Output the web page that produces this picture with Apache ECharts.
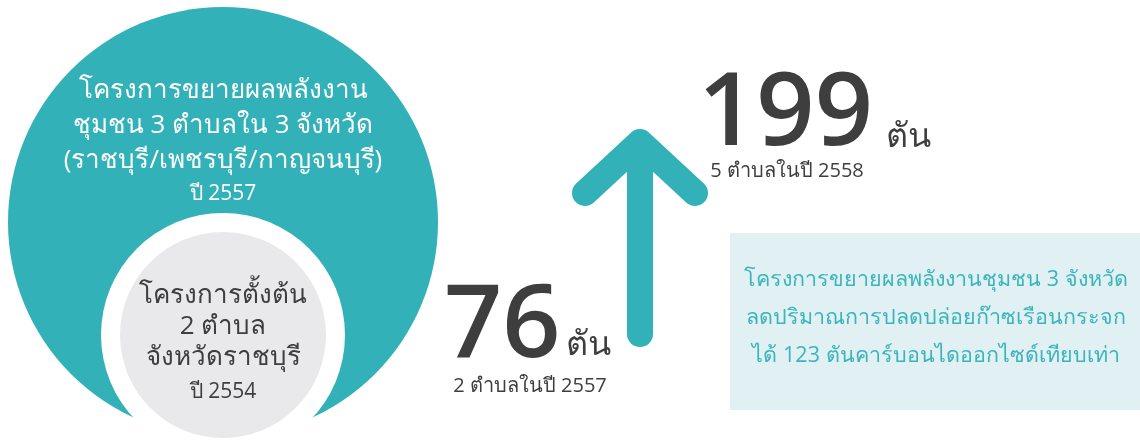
<!DOCTYPE html>
<html lang="th">
<head>
    <meta charset="UTF-8">
    <title>พลังงานชุมชน</title>
    <script src="https://cdn.jsdelivr.net/npm/echarts@6/dist/echarts.min.js"></script>
</head>
<body style="margin:0;background:#fff">
    <div id="chart" style="width:1140px;height:441px"></div>
    <script>
        // ข้อความในวงกลมใหญ่ (ปี 2557)
        const outerLines = ['โครงการขยายผลพลังงาน', 'ชุมชน 3 ตำบลใน 3 จังหวัด', '(ราชบุรี/เพชรบุรี/กาญจนบุรี)'];
        const outerYear = 'ปี 2557';
        // ข้อความในวงกลมเล็ก (ปี 2554)
        const innerLines = ['โครงการตั้งต้น', '2 ตำบล', 'จังหวัดราชบุรี'];
        const innerYear = 'ปี 2554';
        // ค่าก่อน / หลัง
        const values = [76, 199];
        const unit = 'ตัน';
        const valueNotes = ['2 ตำบลในปี 2557', '5 ตำบลในปี 2558'];
        // กล่องสรุป
        const summaryLines = [
            'โครงการขยายผลพลังงานชุมชน 3 จังหวัด',
            'ลดปริมาณการปลดปล่อยก๊าซเรือนกระจก',
            'ได้ 123 ตันคาร์บอนไดออกไซด์เทียบเท่า'
        ];

        const teal = '#32b1b8';
        const dark = '#3e3e3e';
        const font = '"Open Sans", "Noto Sans", sans-serif';

        const graphic = [];

        // วงกลม
        graphic.push({ type: 'circle', shape: { cx: 223, cy: 222, r: 215 }, style: { fill: teal } });
        graphic.push({ type: 'circle', shape: { cx: 223, cy: 335, r: 122 }, style: { fill: '#ffffff' } });
        graphic.push({ type: 'circle', shape: { cx: 223, cy: 335, r: 103 }, style: { fill: '#e9e9eb' } });

        outerLines.forEach((t, i) => {
            graphic.push({
                type: 'text', x: 223, y: 91 + i * 35,
                style: { text: t, fill: '#fff', fontSize: 26, fontFamily: font, align: 'center', verticalAlign: 'middle' }
            });
        });
        graphic.push({
            type: 'text', x: 223, y: 194,
            style: { text: outerYear, fill: '#fff', fontSize: 21, fontFamily: font, align: 'center', verticalAlign: 'middle' }
        });

        innerLines.forEach((t, i) => {
            graphic.push({
                type: 'text', x: 223, y: 296 + i * 31,
                style: { text: t, fill: dark, fontSize: 26, fontFamily: font, align: 'center', verticalAlign: 'middle' }
            });
        });
        graphic.push({
            type: 'text', x: 223, y: 392,
            style: { text: innerYear, fill: dark, fontSize: 21, fontFamily: font, align: 'center', verticalAlign: 'middle' }
        });

        // ลูกศร
        graphic.push({
            type: 'polyline', shape: { points: [[585, 193], [640, 142], [695, 193]] },
            style: { stroke: teal, lineWidth: 26, lineCap: 'round', lineJoin: 'round', fill: null }
        });
        graphic.push({
            type: 'line', shape: { x1: 640, y1: 150, x2: 640, y2: 334 },
            style: { stroke: teal, lineWidth: 26, lineCap: 'round' }
        });

        // ตัวเลข
        const numPos = [[444, 379], [698, 167]];
        const unitPos = [[566, 362], [886, 154]];
        const notePos = [[530, 386], [787, 171]];
        values.forEach((v, i) => {
            graphic.push({
                type: 'text', x: numPos[i][0], y: numPos[i][1],
                style: { text: String(v), fill: dark, fontSize: 102, fontFamily: font, fontWeight: 600, verticalAlign: 'bottom', align: 'left' }
            });
            graphic.push({
                type: 'text', x: unitPos[i][0], y: unitPos[i][1],
                style: { text: unit, fill: dark, fontSize: 34, fontFamily: font, fontWeight: 300, verticalAlign: 'bottom', align: 'left' }
            });
            graphic.push({
                type: 'text', x: notePos[i][0], y: notePos[i][1],
                style: { text: valueNotes[i], fill: dark, fontSize: 20, fontFamily: font, align: 'center', verticalAlign: 'middle' }
            });
        });

        // กล่องสรุป
        graphic.push({ type: 'rect', shape: { x: 730, y: 233, width: 410, height: 177 }, style: { fill: '#e0f0f3' } });
        summaryLines.forEach((t, i) => {
            graphic.push({
                type: 'text', x: 936, y: 280 + i * 38,
                style: { text: t, fill: '#3ab5bb', fontSize: 21.5, fontFamily: font, align: 'center', verticalAlign: 'middle' }
            });
        });

        const chart = echarts.init(document.getElementById('chart'));
        chart.setOption({ animation: false, graphic: graphic });
    </script>
</body>
</html>
